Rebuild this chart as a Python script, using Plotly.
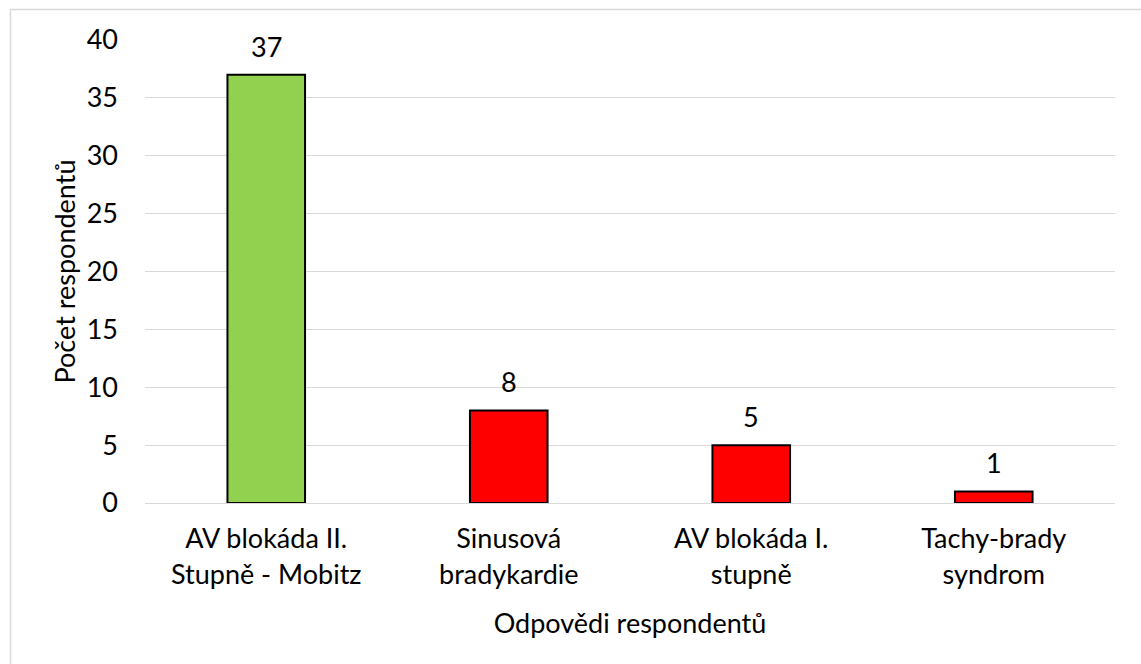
import plotly.graph_objects as go

categories = ["AV blokáda II.<br>Stupně - Mobitz", "Sinusová<br>bradykardie", "AV blokáda I.<br>stupně", "Tachy-brady<br>syndrom"]
values = [37, 8, 5, 1]
colors = ["#92D050", "#FF0000", "#FF0000", "#FF0000"]
y_ticks = [0, 5, 10, 15, 20, 25, 30, 35, 40]

W, H = 1141, 664
L, R, T, B = 145, 26, 40, 161
pw, ph = W - L - R, H - T - B

def px_x(p):
    return (p - L) / pw

def px_y(p):
    return (H - B - p) / ph

font = "Lato"
fs = 27

fig = go.Figure(go.Bar(
    x=categories, y=values,
    marker=dict(color=colors, line=dict(color="black", width=2)),
    cliponaxis=False,
))

annotations = [
    dict(x=c, y=v, xref="x", yref="y", text=str(v), showarrow=False,
         yanchor="bottom", yshift=10, font=dict(size=fs, family=font, color="black"))
    for c, v in zip(categories, values)
]

fig.update_layout(
    width=W, height=H,
    margin=dict(l=L, r=R, t=T, b=B),
    plot_bgcolor="white", paper_bgcolor="white",
    bargap=0.68,
    showlegend=False,
    font=dict(family=font, size=fs, color="black"),
    annotations=annotations,
    xaxis=dict(
        showgrid=False, showline=True, linecolor="#D9D9D9", linewidth=1,
        ticks="", ticklabelstandoff=12, tickfont=dict(size=fs, family=font, color="black"),
        title=dict(text="Odpovědi respondentů", font=dict(size=fs, family=font), standoff=25),
    ),
    yaxis=dict(
        range=[0, 40], tickvals=y_ticks, showgrid=True, gridcolor="#D9D9D9", gridwidth=1,
        zeroline=False, showline=False, ticks="", ticklabelstandoff=26,
        tickfont=dict(size=fs, family=font, color="black"),
        title=dict(text="Počet respondentů", font=dict(size=fs, family=font), standoff=3),
    ),
    shapes=[dict(
        type="rect", xref="paper", yref="paper",
        x0=px_x(10.5), x1=px_x(1150), y0=px_y(9.5), y1=px_y(680),
        line=dict(color="#D9D9D9", width=1.5), layer="below",
    )],
)

fig.write_html("out.html", config={"displayModeBar": False},
               post_script="document.body.style.margin='0';document.body.style.overflow='hidden';")
